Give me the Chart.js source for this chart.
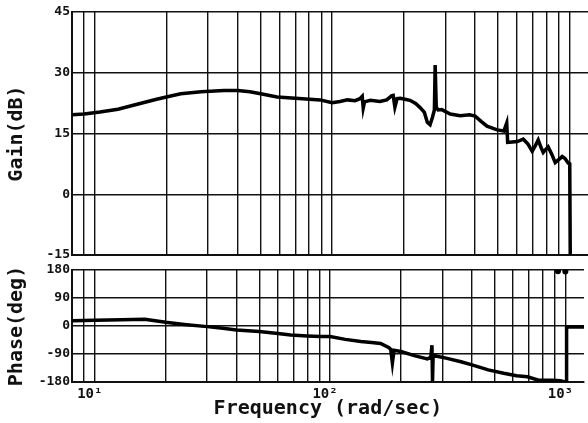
<!DOCTYPE html>
<html>
<head>
<meta charset="utf-8">
<script src="https://cdn.jsdelivr.net/npm/chart.js@4.4.1/dist/chart.umd.min.js"></script>
<style>
    html, body { margin: 0; padding: 0; background: #fff; }
    #wrap { position: relative; width: 588px; height: 423px; overflow: hidden; background: #fff; }
    #wrap canvas { position: absolute; left: 0; }
    #gainChart { top: 0; }
    #phaseChart { top: 260px; }
</style>
</head>
<body>
<div id="wrap">
    <canvas id="gainChart" width="588" height="268"></canvas>
    <canvas id="phaseChart" width="588" height="163"></canvas>
</div>
<script>
// frequency grid (rad/sec) and decade labels
const gridFreqs = [9, 10, 20, 30, 40, 50, 60, 70, 80, 90, 100, 200, 300, 400, 500, 600, 700, 800, 900, 1000];
const decadeLabels = { 10: '10¹', 100: '10²', 1000: '10³' };

// gain curve
const gainFreq = [8, 9, 10.5, 12.5, 15.5, 18, 20, 23, 28, 35, 40, 45, 50, 58.6, 70, 89, 100, 108, 116, 125,
    131, 134, 135.3, 137, 145, 159, 170, 178, 181, 184, 188, 194, 205, 213, 225, 235, 245, 252, 259, 265,
    270, 272, 275, 280, 290, 315, 347, 380, 401, 425, 450, 497, 530, 545, 550, 575, 604, 640, 670, 698,
    720, 740, 760, 777, 795, 815, 845, 873, 905, 934, 960, 990, 1005, 1010];
const gainDb = [19.6, 19.8, 20.3, 21.0, 22.4, 23.4, 24.0, 24.8, 25.3, 25.6, 25.6, 25.3, 24.8, 24.0, 23.7, 23.3, 22.6, 22.9, 23.3, 23.1,
    23.6, 24.2, 21.3, 22.8, 23.2, 22.9, 23.3, 24.3, 24.4, 21.5, 23.6, 23.7, 23.4, 23.2, 22.4, 21.4, 20.2, 17.8, 17.2, 19.0,
    20.8, 31.9, 21.5, 20.8, 20.9, 19.8, 19.4, 19.6, 19.3, 18.0, 16.8, 15.9, 15.6, 17.6, 12.8, 12.9, 13.0, 13.6, 12.4, 10.6,
    12.0, 13.4, 11.6, 10.3, 11.0, 11.7, 9.8, 7.8, 8.6, 9.3, 8.8, 7.7, 7.5, -15];

// phase curve
const phaseFreq = [8, 10, 13, 16.3, 20, 24, 30, 35, 40, 50, 60, 68, 80, 91, 100, 116, 135, 150, 164, 178,
    181, 184, 187, 200, 230, 259, 268, 271, 272.5, 274, 277, 285, 314, 360, 401, 470, 547, 620, 690, 770,
    880, 950, 990, 1008, 1012, 1200];
const phaseDeg = [17, 18.5, 20, 21.5, 12, 5, -2, -7, -13, -18, -24, -29, -32, -34, -34, -43, -50, -53, -56, -70,
    -75, -119, -78, -82, -96, -106, -100, -62, -179, -100, -95, -97, -104, -115, -125, -141, -152, -160, -163, -174,
    -174, -176, -179, -179, -3, -3];

// wrapped phase blips at the top edge
const blipFreq = [930, 1000];
const blipDeg = [176, 175];

const toPoints = (xs, ys) => xs.map((x, i) => ({ x, y: ys[i] }));

const INK = '#111';
const monoFont = (size) => ({ family: '"DejaVu Sans Mono", monospace', size, weight: 'bold' });

const xScale = (showLabels) => ({
    type: 'logarithmic',
    min: 8,
    max: 1200,
    afterBuildTicks: (scale) => {
        scale.ticks = gridFreqs.map((value) => ({ value }));
    },
    afterFit: (scale) => {
        scale.height = showLabels ? 41 : 0;
    },
    grid: { color: INK, lineWidth: 1.4, drawTicks: false },
    border: { color: INK, width: 2 },
    ticks: {
        display: showLabels,
        autoSkip: false,
        maxRotation: 0,
        padding: 4,
        labelOffset: -5,
        color: INK,
        font: monoFont(14),
        callback: (value) => decadeLabels[value] ?? ''
    },
    title: {
        display: showLabels,
        text: 'Frequency (rad/sec)',
        color: INK,
        font: monoFont(20),
        padding: { top: 0, bottom: 2 }
    }
});

const yScale = (min, max, step, label) => ({
    min,
    max,
    afterFit: (scale) => {
        scale.width = 72;
    },
    grid: { color: INK, lineWidth: 1.4, drawTicks: false },
    border: { color: INK, width: 2 },
    ticks: {
        stepSize: step,
        padding: 2,
        color: INK,
        font: monoFont(13)
    },
    title: {
        display: true,
        text: label,
        color: INK,
        font: monoFont(20),
        padding: { top: 5, bottom: 0 }
    }
});

const baseOptions = (padding, yOpts, showX) => ({
    responsive: false,
    animation: false,
    layout: { padding },
    plugins: { legend: { display: false }, tooltip: { enabled: false } },
    scales: { x: xScale(showX), y: yOpts }
});

new Chart(document.getElementById('gainChart'), {
    type: 'line',
    data: {
        datasets: [{
            data: toPoints(gainFreq, gainDb),
            borderColor: '#000',
            borderWidth: 3.5,
            pointRadius: 0,
            tension: 0
        }]
    },
    options: baseOptions({ top: 12, bottom: 13, left: 0, right: 0 }, yScale(-15, 45, 15, 'Gain(dB)'), false)
});

new Chart(document.getElementById('phaseChart'), {
    type: 'line',
    data: {
        datasets: [
            {
                data: toPoints(phaseFreq, phaseDeg),
                borderColor: '#000',
                borderWidth: 3.5,
                pointRadius: 0,
                tension: 0
            },
            {
                data: toPoints(blipFreq, blipDeg),
                showLine: false,
                pointRadius: 3,
                pointBackgroundColor: '#000',
                pointBorderWidth: 0
            }
        ]
    },
    options: baseOptions({ top: 10, bottom: 0, left: 0, right: 0 }, yScale(-180, 180, 90, 'Phase(deg)'), true)
});
</script>
</body>
</html>
